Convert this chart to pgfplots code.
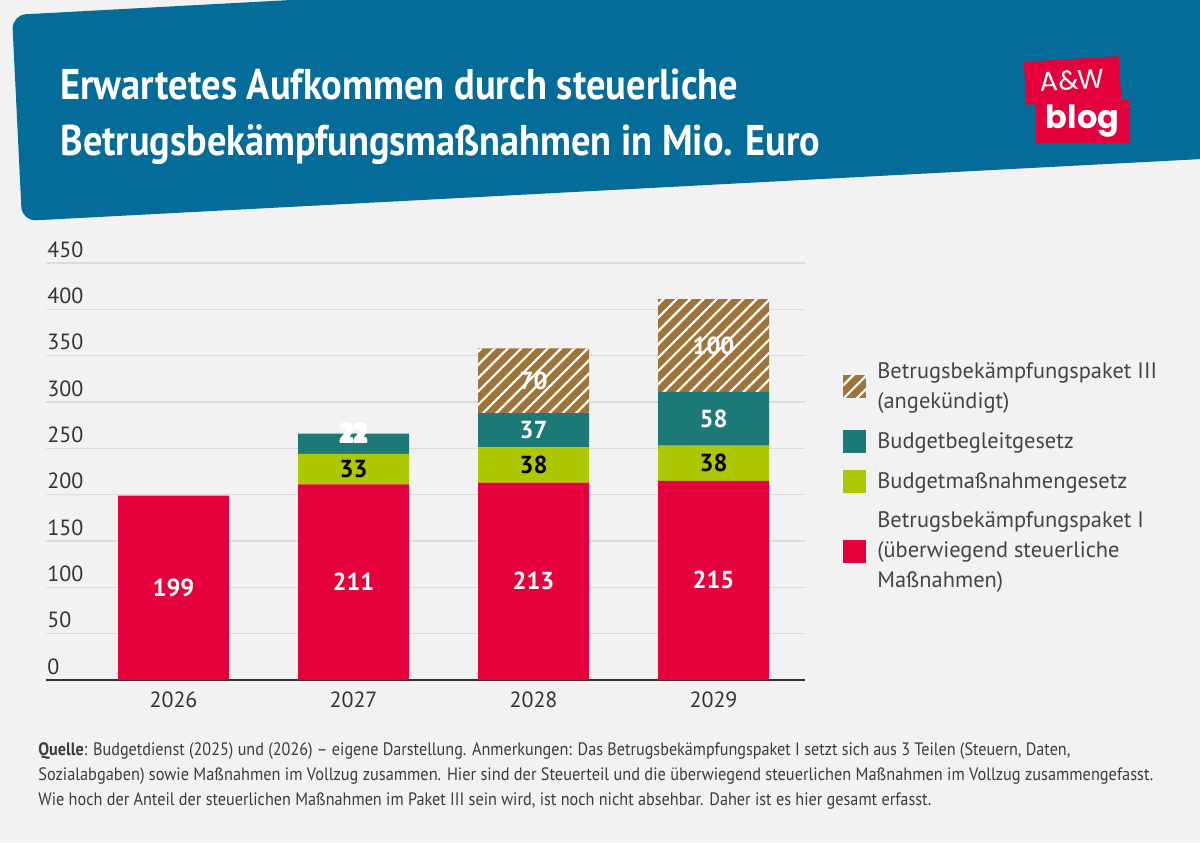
\documentclass[border=0pt]{standalone}
\usepackage{graphicx}
\usepackage{pgfplots}
\pgfplotsset{compat=1.18}
\usepackage{pgfplotstable}
\usetikzlibrary{patterns.meta}
\usepackage{fontspec}
\setmainfont{PT Sans}
\newfontfamily\logofont{Poppins}

\definecolor{bg}{HTML}{F2F2F2}
\definecolor{banner}{HTML}{036C98}
\definecolor{awred}{HTML}{E4003A}
\definecolor{pkired}{HTML}{E4003A}
\definecolor{bmglime}{HTML}{ADC800}
\definecolor{bbgteal}{HTML}{1B7A78}
\definecolor{pkiiibrown}{HTML}{A07438}
\definecolor{gridgrey}{HTML}{DCDCDC}
\definecolor{axisdark}{HTML}{333333}
\definecolor{legtxt}{HTML}{444444}
\definecolor{notetxt}{HTML}{3C3C3C}

% white digits with a teal outline
\newsavebox\olbox
\newcommand\outl[1]{\sbox\olbox{#1}%
  \rlap{\color{bbgteal}%
    \rlap{\kern0.9pt\usebox\olbox}\rlap{\kern-0.9pt\usebox\olbox}%
    \rlap{\raise0.9pt\hbox{\usebox\olbox}}\rlap{\lower0.9pt\hbox{\usebox\olbox}}%
    \rlap{\kern0.65pt\raise0.65pt\hbox{\usebox\olbox}}\rlap{\kern-0.65pt\raise0.65pt\hbox{\usebox\olbox}}%
    \rlap{\kern0.65pt\lower0.65pt\hbox{\usebox\olbox}}\rlap{\kern-0.65pt\lower0.65pt\hbox{\usebox\olbox}}}%
  \usebox\olbox}

% value label: nodes sit at the segment middle; pos = relative height
% below the segment top (0.5 = middle, 0 = on the top edge, outlined)
\newcommand\barlabel[1]{%
  \pgfmathsetlengthmacro\lshift{(0.5-\lpos)*\rawy*0.4633pt-4.3pt}%
  \raisebox{\lshift}{\ifdim\lpos pt=0pt \outl{#1}\else #1\fi}}

% one line of the notes, set to a given width
\newcommand\noteline[2]{\resizebox{#1}{\height}{#2}}

% Aufkommen in Mio. Euro
\pgfplotstableread{
x y lab pos
0 199 199 0.5
1 211 211 0.5
2 213 213 0.5
3 215 215 0.5
}\paketI
\pgfplotstableread{
x y lab pos
0 0 {} 0.5
1 33 33 0.5
2 38 38 0.5
3 38 38 0.5
}\bmg
\pgfplotstableread{
x y lab pos
0 0 {} 0.5
1 22 22 0
2 37 37 0.5
3 58 58 0.5
}\bbg
\pgfplotstableread{
x y lab pos
0 0 {} 0.5
1 0 {} 0.5
2 70 70 0.5
3 100 100 0.5
}\paketIII

\begin{document}
\begin{tikzpicture}[x=0.5pt,y=0.5pt]
\useasboundingbox (0,0) rectangle (1200,843);
\fill[bg] (0,0) rectangle (1200,843);

% header banner
\begin{scope}
\clip (0,0) rectangle (1200,843);
\fill[banner, rounded corners=7pt] (1240,894) -- (12,828) -- (22,622) -- (1240,686) -- cycle;
\end{scope}
\node[anchor=base west, inner sep=0pt, text=white] at (60,743)
  {\resizebox{339pt}{\height}{\fontsize{21.5}{24}\selectfont\bfseries Erwartetes Aufkommen durch steuerliche}};
\node[anchor=base west, inner sep=0pt, text=white] at (60,688)
  {\resizebox{380pt}{\height}{\fontsize{21.5}{24}\selectfont\bfseries Betrugsbekämpfungsmaßnahmen in Mio. Euro}};

% logo
\node[fill=awred, rotate=3.4, minimum width=47.5pt, minimum height=21.5pt, inner sep=0pt,
      text=white, font=\logofont\fontsize{13.5}{14}\selectfont] at (1072.5,762.5) {A\&W};
\node[fill=awred, minimum width=46.5pt, minimum height=21.5pt, inner sep=0pt,
      text=white, font=\logofont\bfseries\fontsize{16}{16}\selectfont] at (1082.5,721.5) {blog};

\begin{axis}[
  at={(86.75pt,81.5pt)}, anchor=origin,
  x=90pt, y=0.4633pt,
  xmin=-0.708, xmax=3.508, ymin=0, ymax=450,
  ybar stacked, bar width=55.5pt,
  axis line style={draw=none}, major tick length=0pt,
  ytick={0,50,...,450},
  xtick={0,1,2,3}, xticklabels={2026,2027,2028,2029},
  ymajorgrids, grid style={color=gridgrey, line width=0.75pt},
  /pgf/number format/assume math mode=true,
  tick label style={font=\fontsize{11}{13}\selectfont, text=axisdark, inner sep=0pt},
  yticklabel style={anchor=base west, xshift=0.5pt, yshift=3pt},
  xticklabel style={anchor=north, yshift=-5.8pt},
  clip=false,
  point meta=explicit symbolic,
  visualization depends on={\thisrow{y}\as\rawy},
  visualization depends on={\thisrow{pos}\as\lpos},
  nodes near coords={\barlabel{\pgfplotspointmeta}},
  every node near coord/.style={anchor=base, inner sep=0pt,
     font=\bfseries\fontsize{12.3}{14}\selectfont},
  reverse legend,
  legend image code/.code={%
     \path[#1, draw=none, overlay] (0pt,-5.75pt) rectangle (11.5pt,5.75pt);
     \path (0pt,0pt) -- (11.5pt,0pt);},
  legend cell align=left,
  legend style={at={(axis description cs:1.0501,0.772)}, anchor=north west,
     draw=none, fill=none, inner sep=0pt, row sep=6.5pt, column sep=3.5pt,
     font=\fontsize{11.2}{15}\selectfont, text=legtxt,
     cells={align=left, inner sep=0pt}},
]
\addplot[fill=pkired, draw=none, every node near coord/.append style={text=white}]
  table[x=x, y=y, meta=lab] {\paketI};
\addlegendentry{Betrugsbekämpfungspaket I\\(überwiegend steuerliche\\Maßnahmen)}
\addplot[fill=bmglime, draw=none, every node near coord/.append style={text=black}]
  table[x=x, y=y, meta=lab] {\bmg};
\addlegendentry{Budgetmaßnahmengesetz}
\addplot[fill=bbgteal, draw=none, every node near coord/.append style={text=white}]
  table[x=x, y=y, meta=lab] {\bbg};
\addlegendentry{Budgetbegleitgesetz}
\addplot[fill=pkiiibrown, draw=none,
  postaction={pattern={Lines[angle=45,distance=4.7pt,line width=1.1pt]}, pattern color=white},
  every node near coord/.append style={text=white}]
  table[x=x, y=y, meta=lab] {\paketIII};
\addlegendentry{Betrugsbekämpfungspaket III\\(angekündigt)}
\draw[axisdark, line width=1pt] (rel axis cs:0,0) -- (rel axis cs:1,0);
\end{axis}

% source and notes
\begin{scope}[every node/.style={anchor=base west, inner sep=0pt, text=notetxt, font=\fontsize{9}{12}\selectfont}]
\node at (38,87.3) {\noteline{516pt}{\textbf{Quelle}: Budgetdienst (2025) und (2026) – eigene Darstellung. Anmerkungen: Das Betrugsbekämpfungspaket I setzt sich aus 3 Teilen (Steuern, Daten,}};
\node at (38,62.8) {\noteline{557.5pt}{Sozialabgaben) sowie Maßnahmen im Vollzug zusammen. Hier sind der Steuerteil und die überwiegend steuerlichen Maßnahmen im Vollzug zusammengefasst.}};
\node at (38,38) {\noteline{446.5pt}{Wie hoch der Anteil der steuerlichen Maßnahmen im Paket III sein wird, ist noch nicht absehbar. Daher ist es hier gesamt erfasst.}};
\end{scope}
\end{tikzpicture}
\end{document}
